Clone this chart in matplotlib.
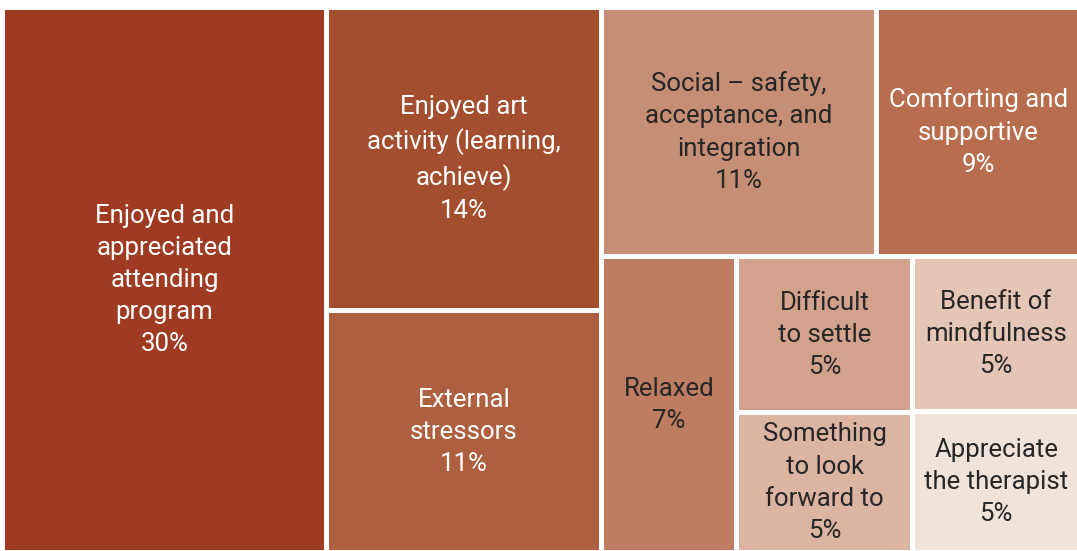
import matplotlib
matplotlib.use("Agg")
import matplotlib.pyplot as plt
from matplotlib.patches import Rectangle

labels = [
    "Enjoyed and\nappreciated\nattending\nprogram",
    "Enjoyed art\nactivity (learning,\nachieve)",
    "External\nstressors",
    "Social – safety,\nacceptance, and\nintegration",
    "Comforting and\nsupportive",
    "Relaxed",
    "Difficult\nto settle",
    "Something\nto look\nforward to",
    "Benefit of\nmindfulness",
    "Appreciate\nthe therapist",
]
# rounded percentages shown in the labels
percents = [30, 14, 11, 11, 9, 7, 5, 5, 5, 5]
# underlying shares (estimated from the tile areas) used for sizing
shares = [30.1, 14.2, 11.3, 11.7, 8.6, 6.8, 4.7, 4.2, 4.4, 4.0]
colors = ["#9E3B22", "#A24E2F", "#AD5F40", "#C68E74", "#B86E4E",
          "#BE7D61", "#D2A28C", "#DBB4A2", "#E4C5B6", "#EFE3DA"]
text_colors = ["white", "white", "white", "#262626", "white",
               "#262626", "#262626", "#262626", "#262626", "#262626"]

# nested layout: ('h' = split into columns, 'v' = stacked rows)
layout = ("h", [0,
                ("v", [1, 2]),
                ("v", [("h", [3, 4]),
                       ("h", [5,
                              ("v", [6, 7]),
                              ("v", [8, 9])])])])


def total(node):
    if isinstance(node, int):
        return shares[node]
    return sum(total(c) for c in node[1])


rects = {}


def place(node, x, y, w, h):
    if isinstance(node, int):
        rects[node] = (x, y, w, h)
        return
    kind, children = node
    s = total(node)
    pos = 0.0
    for c in children:
        frac = total(c) / s
        if kind == "h":
            place(c, x + pos * w, y, frac * w, h)
        else:
            place(c, x, y + pos * h, w, frac * h)
        pos += frac


W, H = 1077, 551
fig = plt.figure(figsize=(W / 100, H / 100), dpi=100)
ax = fig.add_axes([0, 0, 1, 1])
ax.set_xlim(0, W)
ax.set_ylim(H, 0)
ax.axis("off")

gap = 5
x0, y0, x1, y1 = 5, 10, W + gap, H - 1 + gap
place(layout, x0, y0, x1 - x0, y1 - y0)

for i in range(len(shares)):
    x, y, w, h = rects[i]
    ax.add_patch(Rectangle((x, y), w - gap, h - gap, facecolor=colors[i],
                           edgecolor="none"))
    ax.text(x + (w - gap) / 2, y + (h - gap) / 2,
            f"{labels[i]}\n{percents[i]}%", ha="center", va="center",
            color=text_colors[i], fontsize=18.5, family="Roboto",
            linespacing=1.43)

fig.savefig("out.png", dpi=100)
